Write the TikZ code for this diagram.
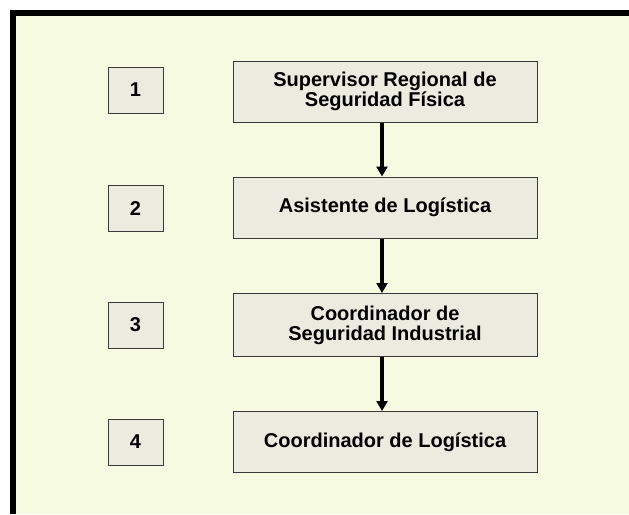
\documentclass[tikz,border=0pt]{standalone}
\usepackage{fontspec}
\setmainfont{Liberation Sans}
\usetikzlibrary{arrows.meta}
\definecolor{bgc}{HTML}{F5FAE1}
\definecolor{boxc}{HTML}{EBEBE0}
\definecolor{edgec}{HTML}{3A3A3A}
\begin{document}
\begin{tikzpicture}[x=1pt,y=-1pt,
  rolebox/.style={draw=edgec, line width=1pt, fill=boxc, minimum width=304pt, minimum height=61pt, align=center, font=\bfseries\fontsize{20}{20}\selectfont, inner sep=0pt},
  numbox/.style={draw=edgec, line width=1pt, fill=boxc, minimum width=55pt, minimum height=46pt, font=\bfseries\fontsize{20}{20}\selectfont, inner sep=0pt},
  link/.style={line width=3.5pt, -{Triangle[width=11pt,length=10pt]}}]
\useasboundingbox (0,0) rectangle (629,514);
\fill[white] (0,0) rectangle (629,514);
\fill[bgc] (16,16) rectangle (629,514);
\fill[black] (10,10) rectangle (629,16);
\fill[black] (10,10) rectangle (16,514);

\node[rolebox] (b1) at (385,91.5) {Supervisor Regional de\\Seguridad Física};
\node[rolebox] (b2) at (385,207.5) {Asistente de Logística};
\node[rolebox, minimum height=63pt] (b3) at (385,325) {Coordinador de\\Seguridad Industrial};
\node[rolebox] (b4) at (385,442) {Coordinador de Logística};

\node[numbox] (n1) at (135.5,90) {1};
\node[numbox] (n2) at (135.5,208.5) {2};
\node[numbox] (n3) at (135.5,325) {3};
\node[numbox] (n4) at (135.5,442) {4};

\draw[link] ([xshift=-3pt]b1.south) -- ([xshift=-3pt]b2.north);
\draw[link] ([xshift=-3pt]b2.south) -- ([xshift=-3pt]b3.north);
\draw[link] ([xshift=-3pt]b3.south) -- ([xshift=-3pt]b4.north);
\end{tikzpicture}
\end{document}
